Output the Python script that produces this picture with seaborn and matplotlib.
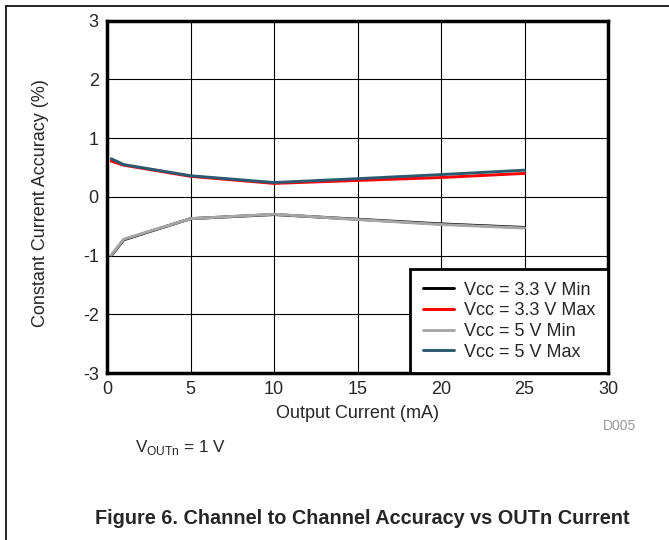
import numpy as np
import pandas as pd
import matplotlib
matplotlib.use("Agg")
import matplotlib.pyplot as plt
from matplotlib.lines import Line2D
import seaborn as sns

# values
current_ma = [0.25, 1, 5, 10, 15, 20, 25]
vcc33_min = [-1.00, -0.73, -0.37, -0.30, -0.38, -0.46, -0.52]
vcc33_max = [0.61, 0.54, 0.35, 0.23, 0.28, 0.33, 0.40]
vcc5_min = [-0.99, -0.72, -0.37, -0.295, -0.385, -0.47, -0.53]
vcc5_max = [0.65, 0.55, 0.36, 0.245, 0.31, 0.38, 0.455]

series_names = ["Vcc = 3.3 V Min", "Vcc = 3.3 V Max", "Vcc = 5 V Min", "Vcc = 5 V Max"]
series_colors = ["#000000", "#ff0000", "#a6a6a6", "#2b5a70"]
x_ticks = [0, 5, 10, 15, 20, 25, 30]
y_ticks = [-3, -2, -1, 0, 1, 2, 3]

frames = []
for name, vals in zip(series_names, [vcc33_min, vcc33_max, vcc5_min, vcc5_max]):
    frames.append(pd.DataFrame({"current": current_ma, "accuracy": vals, "series": name}))
df = pd.concat(frames, ignore_index=True)

sns.set_style("white")
plt.rcParams["font.family"] = ["Liberation Sans", "DejaVu Sans"]
plt.rcParams["axes.unicode_minus"] = False

fig = plt.figure(figsize=(6.69, 5.4), dpi=100)
ax = fig.add_axes([0.16, 0.309, 0.749, 0.6527])

sns.lineplot(data=df, x="current", y="accuracy", hue="series",
             hue_order=series_names, palette=series_colors,
             linewidth=2.1, ax=ax, legend=True)

ax.set_xlim(0, 30)
ax.set_ylim(-3, 3)
ax.set_xticks(x_ticks)
ax.set_yticks(y_ticks)
ax.grid(True, color="black", linewidth=0.8)
ax.set_axisbelow(True)
ax.tick_params(length=0, labelsize=13, pad=6)
for sp in ax.spines.values():
    sp.set_visible(True)
    sp.set_color("black")
    sp.set_linewidth(2.5)

ax.set_xlabel("Output Current (mA)", fontsize=13)
ax.set_ylabel("Constant Current Accuracy (%)", fontsize=13)
ax.xaxis.set_label_coords(0.5, -0.09)
ax.yaxis.set_label_coords(-0.116, 0.483)

leg = ax.legend(loc="lower right", borderaxespad=0, fontsize=13,
                handlelength=1.75, handletextpad=0.55, labelspacing=0.2,
                fancybox=False, framealpha=1, borderpad=0.7)
leg.get_frame().set_edgecolor("black")
leg.get_frame().set_linewidth(2)

fig.text(0.951, 0.211, "D005", fontsize=10, color="#999999", ha="right", va="center")
fig.text(0.202, 0.172, r"V$_{\mathregular{OUTn}}$ = 1 V", fontsize=12.3, ha="left", va="center")
fig.text(0.541, 0.04, "Figure 6. Channel to Channel Accuracy vs OUTn Current",
         fontsize=14.3, fontweight="bold", ha="center", va="center")

# page frame lines (top and left)
fig.add_artist(Line2D([0.009, 1.0], [0.989, 0.989], transform=fig.transFigure,
                      color="black", linewidth=1.2))
fig.add_artist(Line2D([0.009, 0.009], [0.0, 0.989], transform=fig.transFigure,
                      color="black", linewidth=1.2))

fig.savefig("out.png", dpi=100)
